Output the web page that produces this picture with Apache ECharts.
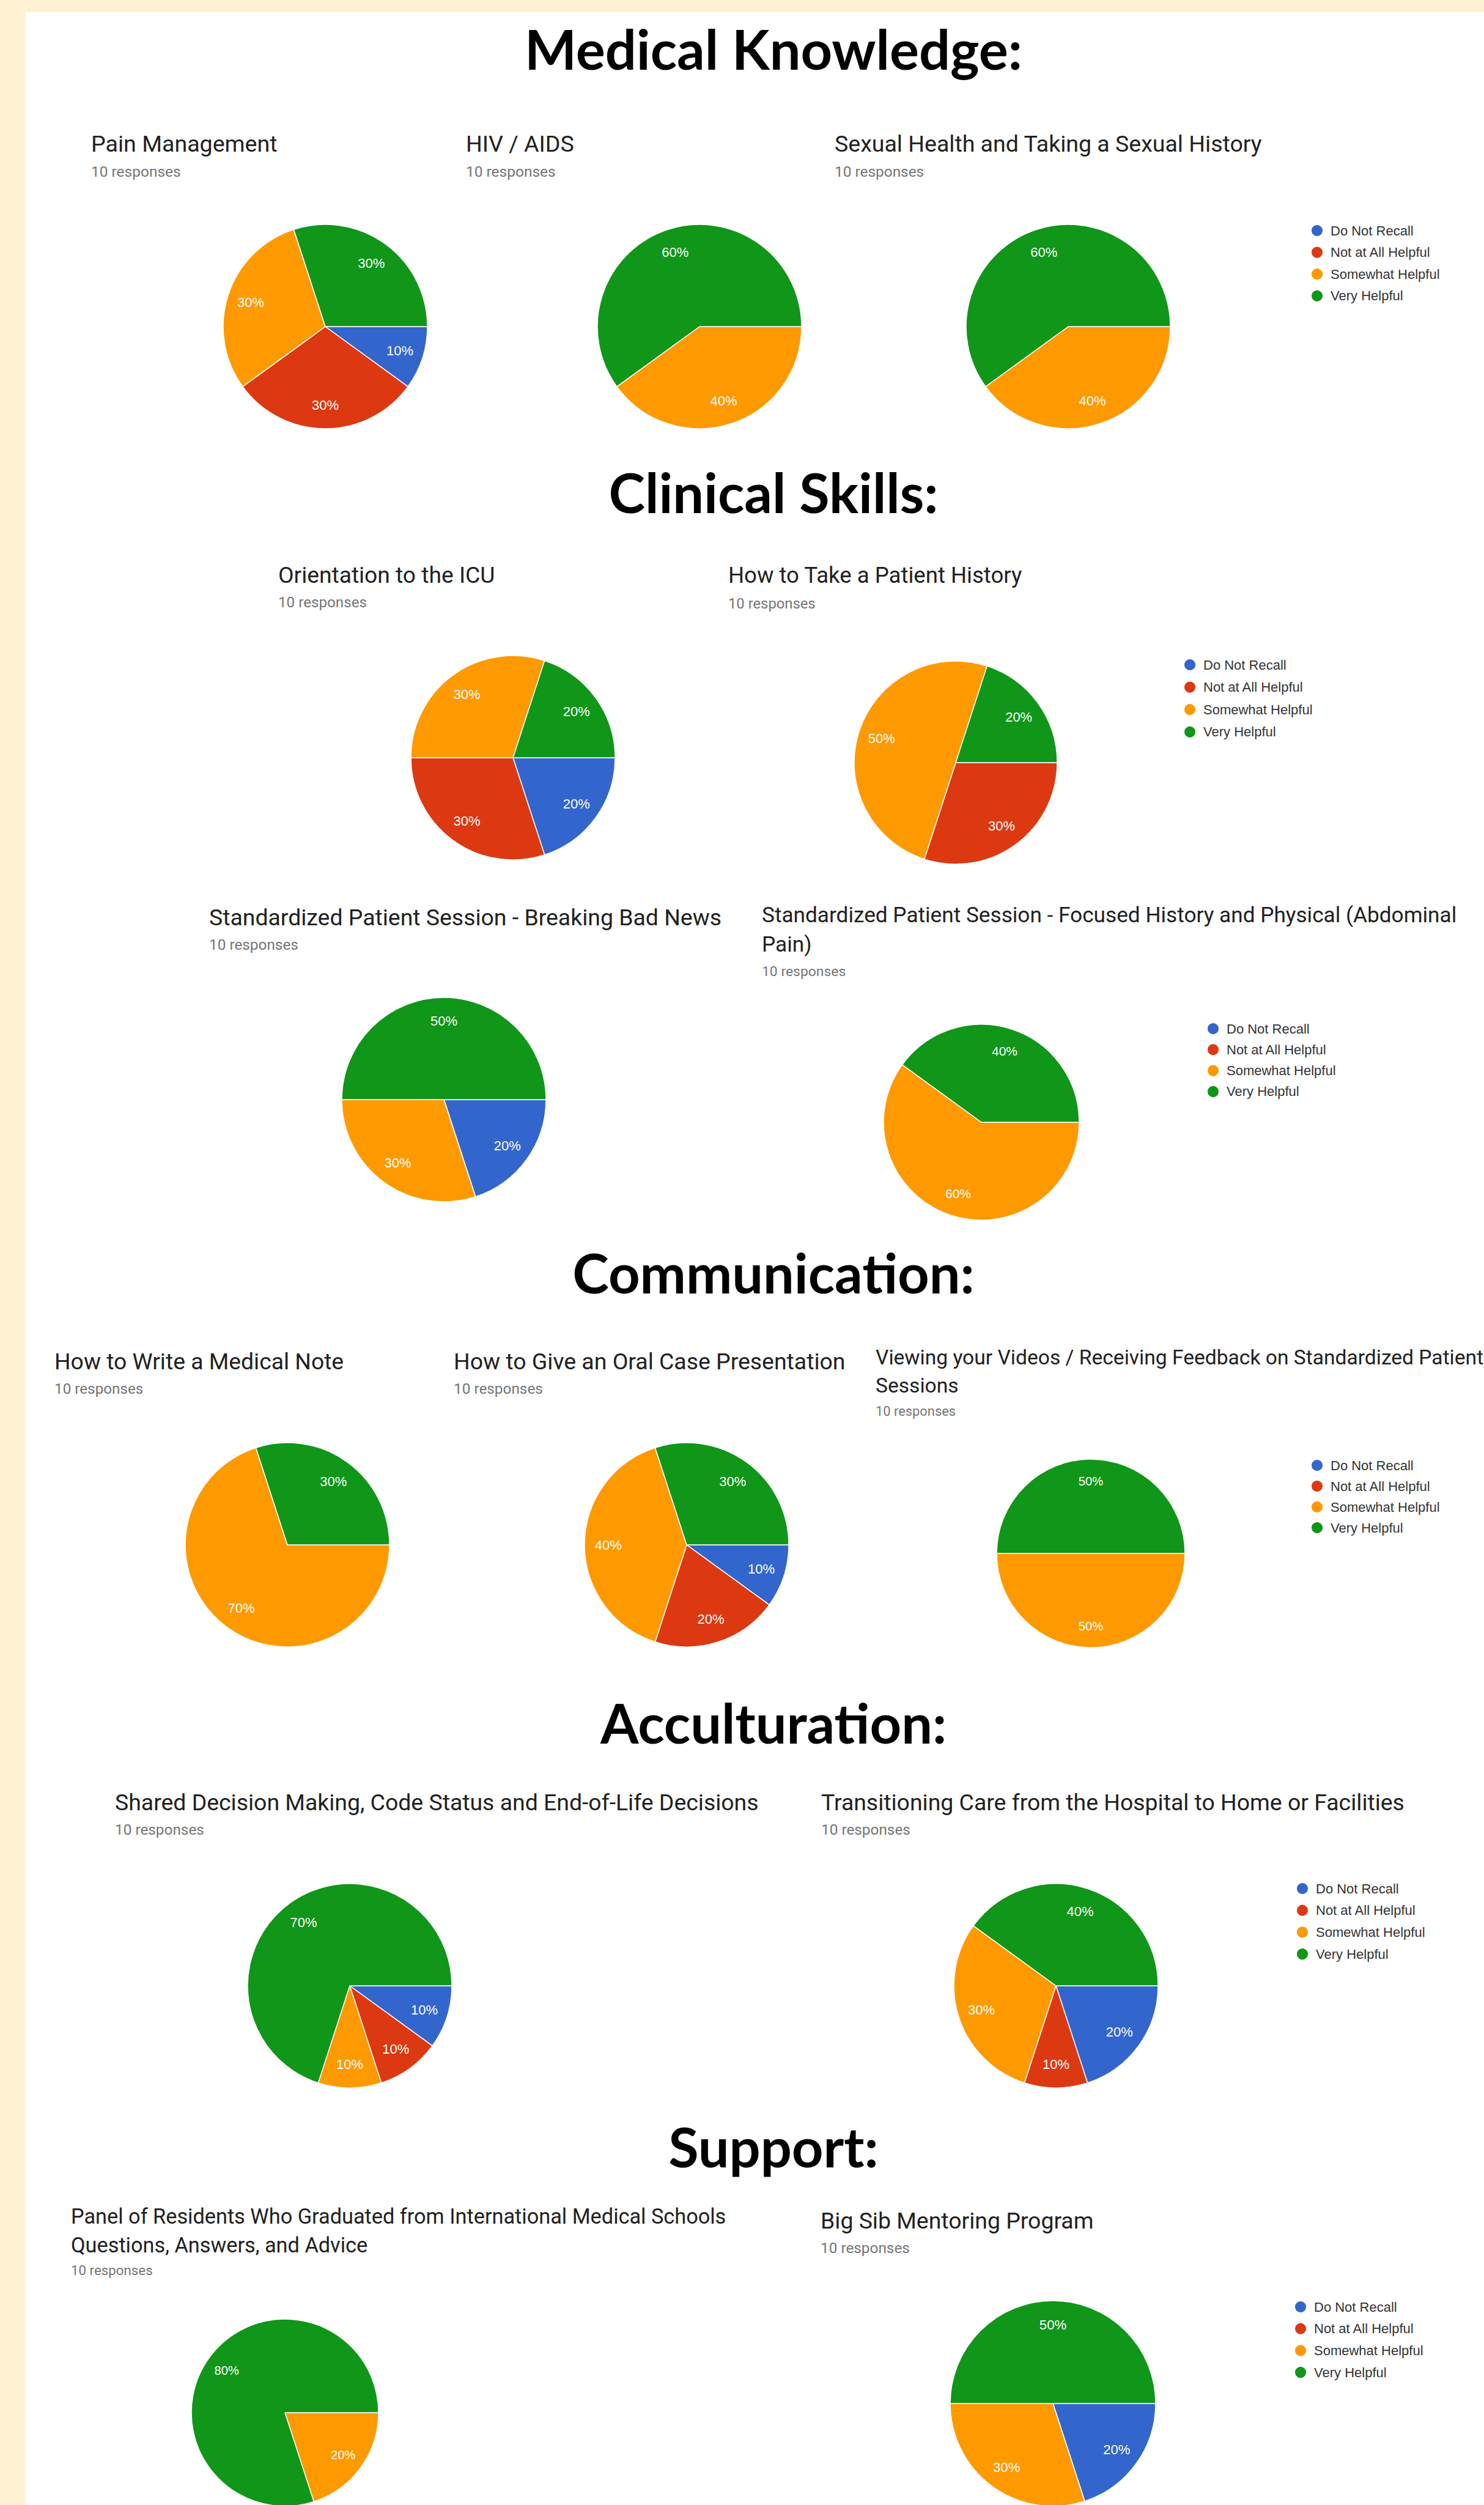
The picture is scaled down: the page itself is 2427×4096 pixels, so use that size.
<!DOCTYPE html>
<html>
<head>
<meta charset="utf-8">
<script src="https://cdn.jsdelivr.net/npm/echarts@6/dist/echarts.min.js"></script>
<style>
html,body{margin:0;padding:0;background:#FFF2D3;}
#c{width:2427px;height:4096px;}
</style>
</head>
<body>
<div id="c"></div>
<script>
// ---------- DATA ----------
const CATEGORIES = ['Do Not Recall', 'Not at All Helpful', 'Somewhat Helpful', 'Very Helpful'];
const SECTION_HEADERS = ['Medical Knowledge:', 'Clinical Skills:', 'Communication:', 'Acculturation:', 'Support:'];
const RESPONSES_LABEL = '10 responses';

// counts out of 10 responses, in CATEGORIES order
const painManagement    = [1, 3, 3, 3];
const hivAids           = [0, 0, 4, 6];
const sexualHealth      = [0, 0, 4, 6];
const orientationICU    = [2, 3, 3, 2];
const patientHistory    = [0, 3, 5, 2];
const breakingBadNews   = [2, 0, 3, 5];
const abdominalPain     = [0, 0, 6, 4];
const medicalNote       = [0, 0, 7, 3];
const oralCase          = [1, 2, 4, 3];
const viewingVideos     = [0, 0, 5, 5];
const sharedDecision    = [1, 1, 1, 7];
const transitioningCare = [2, 1, 3, 4];
const panelResidents    = [0, 0, 2, 8];
const bigSib            = [2, 0, 3, 5];

const chartTitles = {
  painManagement: ['Pain Management'],
  hivAids: ['HIV / AIDS'],
  sexualHealth: ['Sexual Health and Taking a Sexual History'],
  orientationICU: ['Orientation to the ICU'],
  patientHistory: ['How to Take a Patient History'],
  breakingBadNews: ['Standardized Patient Session - Breaking Bad News'],
  abdominalPain: ['Standardized Patient Session - Focused History and Physical (Abdominal', 'Pain)'],
  medicalNote: ['How to Write a Medical Note'],
  oralCase: ['How to Give an Oral Case Presentation'],
  viewingVideos: ['Viewing your Videos / Receiving Feedback on Standardized Patient', 'Sessions'],
  sharedDecision: ['Shared Decision Making, Code Status and End-of-Life Decisions'],
  transitioningCare: ['Transitioning Care from the Hospital to Home or Facilities'],
  panelResidents: ['Panel of Residents Who Graduated from International Medical Schools', 'Questions, Answers, and Advice'],
  bigSib: ['Big Sib Mentoring Program']
};

// ---------- STYLE / LAYOUT ----------
const COLORS = ['#3366CC', '#DC3912', '#FF9900', '#109618'];
const W = 2427, H = 4096;

const headerLayout = [79, 804, 2080, 2816, 3509];
const headerX = 1265;

// chart layouts: title x, title line y's, responses y, pie center & radius, title font size
const charts = [
  { key: 'painManagement',    values: painManagement,    tx: 149,  ty: [235],        ry: 280,  c: [532, 534],   r: 167, fs: 37.6 },
  { key: 'hivAids',           values: hivAids,           tx: 762,  ty: [235],        ry: 280,  c: [1144, 534],  r: 167, fs: 37.6 },
  { key: 'sexualHealth',      values: sexualHealth,      tx: 1365, ty: [235],        ry: 280,  c: [1747, 534],  r: 167, fs: 37.5 },
  { key: 'orientationICU',    values: orientationICU,    tx: 455,  ty: [940],        ry: 985,  c: [839, 1239],  r: 167, fs: 37.2 },
  { key: 'patientHistory',    values: patientHistory,    tx: 1191, ty: [940],        ry: 987,  c: [1563, 1247], r: 166, fs: 36.6 },
  { key: 'breakingBadNews',   values: breakingBadNews,   tx: 342,  ty: [1500],       ry: 1544, c: [726, 1798],  r: 167, fs: 37.4 },
  { key: 'abdominalPain',     values: abdominalPain,     tx: 1246, ty: [1496, 1544], ry: 1588, c: [1605, 1835], r: 160, fs: 35.2 },
  { key: 'medicalNote',       values: medicalNote,       tx: 89,   ty: [2226],       ry: 2270, c: [470, 2526],  r: 167, fs: 37.3 },
  { key: 'oralCase',          values: oralCase,          tx: 742,  ty: [2226],       ry: 2270, c: [1123, 2526], r: 167, fs: 37.4 },
  { key: 'viewingVideos',     values: viewingVideos,     tx: 1432, ty: [2219, 2265], ry: 2307, c: [1784, 2540], r: 154, fs: 33.6 },
  { key: 'sharedDecision',    values: sharedDecision,    tx: 188,  ty: [2947],       ry: 2991, c: [572, 3247],  r: 167, fs: 37.4 },
  { key: 'transitioningCare', values: transitioningCare, tx: 1343, ty: [2947],       ry: 2991, c: [1727, 3247], r: 167, fs: 37.4 },
  { key: 'panelResidents',    values: panelResidents,    tx: 116,  ty: [3624, 3671], ry: 3712, c: [466, 3945],  r: 153, fs: 34.3 },
  { key: 'bigSib',            values: bigSib,            tx: 1342, ty: [3631],       ry: 3675, c: [1722, 3930], r: 168, fs: 37.4 }
];

// legends: dot center x, first row center y, row spacing
const legends = [
  { x: 2160, y: 377,  s: 35.6 },
  { x: 1952, y: 1087, s: 36.6 },
  { x: 1990, y: 1682, s: 34.3 },
  { x: 2160, y: 2396, s: 34.0 },
  { x: 2136, y: 3088, s: 35.7 },
  { x: 2133, y: 3772, s: 35.7 }
];

// ---------- BUILD ----------
const graphic = [];
graphic.push({ type: 'rect', z: -10, shape: { x: 42, y: 20, width: W - 42, height: H - 20 }, style: { fill: '#ffffff' }, silent: true });

function textEl(x, y, text, font, size, weight, color, align) {
  return {
    type: 'text', x: x, y: y, silent: true,
    style: {
      text: text, fontFamily: font, fontSize: size, fontWeight: weight, fill: color,
      align: align, verticalAlign: 'middle', textAlign: align, textVerticalAlign: 'middle'
    }
  };
}

SECTION_HEADERS.forEach((h, i) => {
  graphic.push(textEl(headerX, headerLayout[i], h, 'Lato', 90, 'bold', '#000000', 'center'));
});

const series = [];
charts.forEach(ch => {
  const k = ch.fs / 37.5;
  chartTitles[ch.key].forEach((line, li) => {
    graphic.push(textEl(ch.tx, ch.ty[li], line, 'Roboto', ch.fs, 'normal', '#212121', 'left'));
  });
  graphic.push(textEl(ch.tx, ch.ry, RESPONSES_LABEL, 'Roboto', 24.4 * k, 'normal', '#757575', 'left'));

  const items = CATEGORIES.map((n, i) => ({ name: n, value: ch.values[i], itemStyle: { color: COLORS[i] } }));
  series.push({
    type: 'pie', center: ch.c, radius: ch.r, startAngle: 0, clockwise: true,
    data: items, silent: true, animation: false,
    label: { show: false }, labelLine: { show: false },
    itemStyle: { borderColor: '#ffffff', borderWidth: 1.5 },
    emphasis: { disabled: true }
  });
  series.push({
    type: 'pie', center: ch.c, radius: [ch.r * 0.5, ch.r], startAngle: 0, clockwise: true,
    data: CATEGORIES.map((n, i) => ({ name: n, value: ch.values[i] })),
    silent: true, animation: false, z: 5,
    itemStyle: { color: 'rgba(0,0,0,0)', borderWidth: 0 },
    label: {
      show: true, position: 'inside', color: '#ffffff',
      fontFamily: 'Liberation Sans', fontSize: 22 * ch.r / 167,
      formatter: p => (p.value ? Math.round(p.percent) + '%' : '')
    },
    labelLine: { show: false },
    emphasis: { disabled: true },
    avoidLabelOverlap: false
  });
});

const legendOpts = legends.map(lg => ({
  orient: 'vertical', left: lg.x - 17, top: lg.y - 11, padding: 0,
  itemWidth: 34, itemHeight: 20, itemGap: lg.s - 22, icon: 'circle',
  selectedMode: false,
  textStyle: { fontFamily: 'Liberation Sans', fontSize: 22, color: '#333333', lineHeight: 22 },
  data: CATEGORIES.map((n, i) => ({ name: n, itemStyle: { color: COLORS[i] } }))
}));

const chart = echarts.init(document.getElementById('c'), null, { renderer: 'svg', width: W, height: H });
chart.setOption({
  backgroundColor: '#FFF2D3',
  animation: false,
  color: COLORS,
  graphic: graphic,
  legend: legendOpts,
  series: series
});
</script>
</body>
</html>
